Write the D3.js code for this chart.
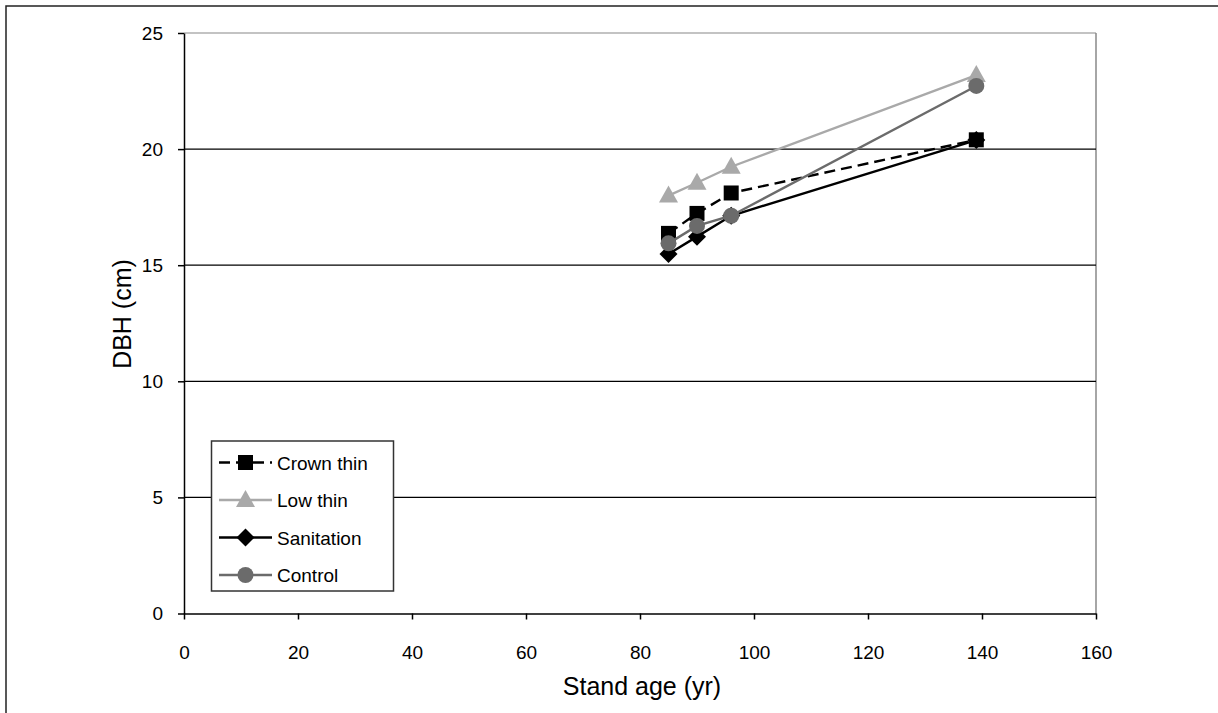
<!DOCTYPE html>
<html><head><meta charset="utf-8">
<script src="https://cdn.jsdelivr.net/npm/d3@7"></script>
<style>body{margin:0;background:#fff}svg{display:block;font-family:"Liberation Sans",Arial,sans-serif}</style>
</head><body>
<svg id="c" width="1218" height="713"></svg>
<script>
const ages = [85, 90, 96, 139];
const crownThin = [16.37, 17.23, 18.11, 20.40];
const lowThin = [18.00, 18.55, 19.24, 23.19];
const sanitation = [15.48, 16.23, 17.13, 20.39];
const control = [15.94, 16.69, 17.13, 22.72];
const seriesNames = ["Crown thin", "Low thin", "Sanitation", "Control"];
const xTicks = [0, 20, 40, 60, 80, 100, 120, 140, 160];
const yTicks = [0, 5, 10, 15, 20, 25];

const series = [
  {name: seriesNames[0], values: crownThin, color: "#000", dash: "11,6", marker: "square"},
  {name: seriesNames[1], values: lowThin, color: "#a9a9a9", dash: null, marker: "triangle"},
  {name: seriesNames[2], values: sanitation, color: "#000", dash: null, marker: "diamond"},
  {name: seriesNames[3], values: control, color: "#6b6b6b", dash: null, marker: "circle"}
];

const svg = d3.select("#c");
const L = 184, R = 1096, T = 33, B = 613.5;
const x = d3.scaleLinear().domain([0, 160]).range([L, R]);
const y = d3.scaleLinear().domain([0, 25]).range([B, T]);

// outer frame
svg.append("rect").attr("x", 6).attr("y", 6).attr("width", 1230).attr("height", 730)
  .attr("fill", "none").attr("stroke", "#222").attr("stroke-width", 1.5);

// plot border (right gray)
svg.append("line").attr("x1", R).attr("x2", R).attr("y1", T).attr("y2", B).attr("stroke", "#888").attr("stroke-width", 1.5);
// gridlines
svg.append("g").selectAll("line").data(yTicks.filter(d => d > 0)).join("line")
  .attr("x1", L).attr("x2", R).attr("y1", d => y(d)).attr("y2", d => y(d))
  .attr("stroke", d => d === 25 ? "#888" : "#000").attr("stroke-width", 1.2);

// axes
const xAxis = d3.axisBottom(x).tickValues(xTicks).tickSize(6).tickPadding(26).tickSizeOuter(0);
const yAxis = d3.axisLeft(y).tickValues(yTicks).tickSize(6).tickPadding(15).tickSizeOuter(0);
const gx = svg.append("g").attr("transform", `translate(0,${B})`).call(xAxis);
const gy = svg.append("g").attr("transform", `translate(${L},0)`).call(yAxis);
[gx, gy].forEach(g => {
  g.select(".domain").attr("stroke", "#000").attr("stroke-width", 1.5);
  g.selectAll(".tick line").attr("stroke", "#000").attr("stroke-width", 1.5);
  g.selectAll("text").attr("fill", "#000").style("font-size", "19px").style("font-family", '"Liberation Sans", Arial, sans-serif');
});

// axis titles
svg.append("text").attr("x", 642).attr("y", 695).attr("text-anchor", "middle")
  .style("font-size", "25px").text("Stand age (yr)");
svg.append("text").attr("transform", `translate(131,314) rotate(-90)`).attr("text-anchor", "middle")
  .style("font-size", "25px").text("DBH (cm)");

function drawMarker(g, type, cx, cy, color) {
  if (type === "square") g.append("rect").attr("x", cx - 7.5).attr("y", cy - 7.5).attr("width", 15).attr("height", 15).attr("fill", color);
  else if (type === "triangle") g.append("path").attr("d", `M${cx},${cy - 10}L${cx + 9.5},${cy + 7}L${cx - 9.5},${cy + 7}Z`).attr("fill", color);
  else if (type === "diamond") g.append("path").attr("d", `M${cx},${cy - 9}L${cx + 9},${cy}L${cx},${cy + 9}L${cx - 9},${cy}Z`).attr("fill", color);
  else g.append("circle").attr("cx", cx).attr("cy", cy).attr("r", 8).attr("fill", color);
}

const line = d3.line().x(d => x(d[0])).y(d => y(d[1]));
series.forEach(s => {
  const g = svg.append("g");
  const pts = ages.map((a, i) => [a, s.values[i]]);
  g.append("path").attr("d", line(pts)).attr("fill", "none").attr("stroke", s.color)
    .attr("stroke-width", 2.4).attr("stroke-dasharray", s.dash);
  pts.forEach(p => drawMarker(g, s.marker, x(p[0]), y(p[1]), s.color));
});

// legend
const lg = svg.append("g");
lg.append("rect").attr("x", 211.5).attr("y", 441).attr("width", 182).attr("height", 150)
  .attr("fill", "#fff").attr("stroke", "#333").attr("stroke-width", 1.5);
series.forEach((s, i) => {
  const cy = 462.5 + i * 37.5;
  lg.append("line").attr("x1", 219).attr("x2", 272).attr("y1", cy).attr("y2", cy)
    .attr("stroke", s.color).attr("stroke-width", 2.4).attr("stroke-dasharray", s.dash);
  drawMarker(lg, s.marker, 245.5, cy, s.color);
  lg.append("text").attr("x", 277).attr("y", cy + 7).style("font-size", "19px").attr("fill", "#000").text(s.name);
});
</script>
</body></html>
